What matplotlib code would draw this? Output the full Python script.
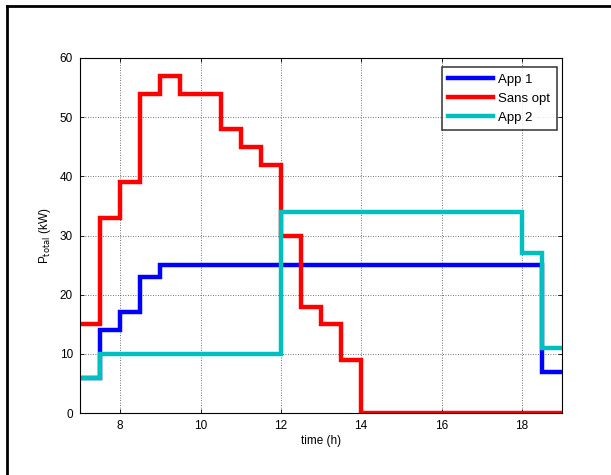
import matplotlib
matplotlib.use("Agg")
import matplotlib.pyplot as plt
from matplotlib.lines import Line2D

plt.rcParams['font.family'] = ['Liberation Sans', 'DejaVu Sans']

# App 1
app1_t = [7, 7.5, 8, 8.5, 9, 18.5, 19]
app1_p = [6, 14, 17, 23, 25, 7]
# Sans opt
sans_t = [7, 7.5, 8, 8.5, 9, 9.5, 10.5, 11, 11.5, 12, 12.5, 13, 13.5, 14, 19]
sans_p = [15, 33, 39, 54, 57, 54, 48, 45, 42, 30, 18, 15, 9, 0]
# App 2
app2_t = [7, 7.5, 12, 18, 18.5, 19]
app2_p = [6, 10, 34, 27, 11]

xticks = [8, 10, 12, 14, 16, 18]
yticks = [0, 10, 20, 30, 40, 50, 60]

fig = plt.figure(figsize=(6.11, 4.75), dpi=100)
ax = fig.add_axes([80/611, 1-413/475, (562-80)/611, (413-58)/475])

series = [
    (app1_t, app1_p, '#0000FF', 'App 1'),
    (sans_t, sans_p, '#FF0000', 'Sans opt'),
    (app2_t, app2_p, '#00BFBF', 'App 2'),
]
for t, p, c, lab in series:
    ax.step(t, list(p) + [p[-1]], where='post', color=c, lw=3.2, label=lab,
            solid_joinstyle='miter', clip_on=True)

ax.set_xlim(7, 19)
ax.set_ylim(0, 60)
ax.set_xticks(xticks)
ax.set_yticks(yticks)
ax.grid(True, color='#444444', linestyle=(0, (1, 2)), lw=0.6)
ax.tick_params(direction='in', top=True, right=True, labelsize=8.5, length=3, width=0.6, pad=5)
for s in ax.spines.values():
    s.set_linewidth(0.8)
ax.set_xlabel('time (h)', fontsize=8.5, labelpad=2)
ax.set_ylabel(r'P$_{\mathrm{total}}$ (kW)', fontsize=8.5, labelpad=5)

leg = ax.legend(loc='upper right', bbox_to_anchor=(557/611, 1-67/475),
                bbox_transform=fig.transFigure, borderaxespad=0,
                fontsize=9.5, frameon=True, fancybox=False,
                edgecolor='black', handlelength=3.4,
                handletextpad=0.4, labelspacing=0.5, borderpad=0.5)
leg.get_frame().set_linewidth(1.1)

# outer frame (left and top edges)
fig.add_artist(Line2D([7/611, 7/611], [0, 1-6/475], transform=fig.transFigure, color='black', lw=2))
fig.add_artist(Line2D([7/611, 1], [1-6/475, 1-6/475], transform=fig.transFigure, color='black', lw=2))

fig.savefig('out.png', dpi=100)
